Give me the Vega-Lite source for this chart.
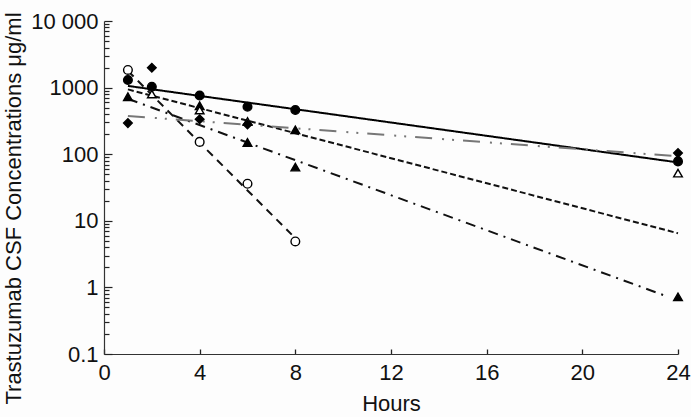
{
  "$schema": "https://vega.github.io/schema/vega-lite/v6.json",
  "width": 574,
  "height": 333,
  "autosize": {"type": "none"},
  "padding": {"left": 104, "top": 21, "right": 13, "bottom": 63},
  "background": "#fdfdfd",
  "config": {"view": {"stroke": null}},
  "datasets": {
    "fits": [
      {"fit": "A", "hour": 1, "conc": 1060},
      {"fit": "A", "hour": 23.8, "conc": 77},
      {"fit": "B", "hour": 1, "conc": 1780},
      {"fit": "B", "hour": 7.85, "conc": 6.2},
      {"fit": "C", "hour": 1, "conc": 680},
      {"fit": "C", "hour": 23.6, "conc": 0.72},
      {"fit": "D", "hour": 1, "conc": 940},
      {"fit": "D", "hour": 24, "conc": 6.5},
      {"fit": "E", "hour": 1, "conc": 375},
      {"fit": "E", "hour": 23.8, "conc": 94}
    ],
    "points": [
      {"marker": "filled circle", "hour": 1, "conc": 1300},
      {"marker": "filled circle", "hour": 2, "conc": 1030},
      {"marker": "filled circle", "hour": 4, "conc": 760},
      {"marker": "filled circle", "hour": 6, "conc": 515},
      {"marker": "filled circle", "hour": 8, "conc": 460},
      {"marker": "filled circle", "hour": 24, "conc": 78},
      {"marker": "open circle", "hour": 1, "conc": 1840},
      {"marker": "open circle", "hour": 4, "conc": 153},
      {"marker": "open circle", "hour": 6, "conc": 36},
      {"marker": "open circle", "hour": 8, "conc": 4.9},
      {"marker": "filled triangle", "hour": 1, "conc": 730},
      {"marker": "filled triangle", "hour": 4, "conc": 535},
      {"marker": "filled triangle", "hour": 6, "conc": 150},
      {"marker": "filled triangle", "hour": 8, "conc": 232},
      {"marker": "filled triangle", "hour": 8, "conc": 64},
      {"marker": "filled triangle", "hour": 24, "conc": 0.72},
      {"marker": "open triangle", "hour": 2, "conc": 800},
      {"marker": "open triangle", "hour": 4, "conc": 460},
      {"marker": "open triangle", "hour": 6, "conc": 310},
      {"marker": "open triangle", "hour": 24, "conc": 52},
      {"marker": "filled diamond", "hour": 1, "conc": 293},
      {"marker": "filled diamond", "hour": 2, "conc": 1990},
      {"marker": "filled diamond", "hour": 4, "conc": 335},
      {"marker": "filled diamond", "hour": 6, "conc": 280},
      {"marker": "filled diamond", "hour": 24, "conc": 104}
    ]
  },
  "encoding": {
    "x": {
      "field": "hour",
      "type": "quantitative",
      "scale": {"domain": [0, 24], "nice": false, "zero": false},
      "axis": {
        "values": [0, 4, 8, 12, 16, 20, 24],
        "grid": false,
        "tickSize": -5,
        "labelPadding": 13,
        "labelFlush": false,
        "labelFont": "Liberation Sans",
        "labelFontSize": 22,
        "labelColor": "#111",
        "domainColor": "#333",
        "domainWidth": 1.2,
        "tickColor": "#222",
        "tickWidth": 1.3,
        "title": "Hours",
        "titleFont": "Liberation Sans",
        "titleFontSize": 22,
        "titleFontWeight": "normal",
        "titleColor": "#111",
        "titlePadding": 10
      }
    },
    "y": {
      "field": "conc",
      "type": "quantitative",
      "scale": {"type": "log", "domain": [0.1, 10000], "nice": false},
      "axis": {
        "values": [0.1, 0.2, 0.3, 0.4, 0.5, 0.6, 0.7, 0.8, 0.9, 1, 2, 3, 4, 5, 6, 7, 8, 9, 10, 20, 30, 40, 50, 60, 70, 80, 90, 100, 200, 300, 400, 500, 600, 700, 800, 900, 1000, 2000, 3000, 4000, 5000, 6000, 7000, 8000, 9000, 10000],
        "labelExpr": "abs(log(datum.value)/LN10 - round(log(datum.value)/LN10)) < 1e-6 ? (datum.value >= 10000 ? '10 000' : (datum.value < 1 ? '0.1' : format(datum.value, 'd'))) : ''",
        "labelOverlap": false,
        "labelFlush": false,
        "grid": false,
        "tickSize": {"condition": {"test": "abs(log(datum.value)/LN10 - round(log(datum.value)/LN10)) < 1e-6", "value": -8}, "value": -5},
        "labelPadding": 14,
        "labelFont": "Liberation Sans",
        "labelFontSize": 22,
        "labelColor": "#111",
        "domainColor": "#333",
        "domainWidth": 1.2,
        "tickColor": "#222",
        "tickWidth": 1.2,
        "title": "Trastuzumab CSF Concentrations μg/ml",
        "titleFont": "Liberation Sans",
        "titleFontSize": 22,
        "titleFontWeight": "normal",
        "titleColor": "#111",
        "titleAngle": -90,
        "titleAlign": "center",
        "titleBaseline": "alphabetic",
        "titleX": -84,
        "titleY": 187
      }
    }
  },
  "layer": [
    {
      "data": {"name": "fits"},
      "mark": {"type": "line", "strokeWidth": 2},
      "encoding": {
        "detail": {"field": "fit", "type": "nominal"},
        "color": {"field": "fit", "type": "nominal", "legend": null, "scale": {"domain": ["A", "B", "C", "D", "E"], "range": ["#000000", "#111111", "#111111", "#111111", "#777777"]}},
        "strokeDash": {"field": "fit", "type": "nominal", "legend": null, "scale": {"domain": ["A", "B", "C", "D", "E"], "range": [[1, 0], [8, 6], [10, 6, 2, 6], [6, 3], [17, 10, 2, 8, 2, 9]]}}
      }
    },
    {
      "data": {"name": "points"},
      "mark": {"type": "point", "filled": true, "stroke": "#000", "strokeWidth": 1.4, "size": 75, "opacity": 1},
      "encoding": {
        "shape": {"field": "marker", "type": "nominal", "legend": null, "scale": {"domain": ["filled circle", "open circle", "filled triangle", "open triangle", "filled diamond"], "range": ["circle", "circle", "triangle-up", "triangle-up", "diamond"]}},
        "fill": {"field": "marker", "type": "nominal", "legend": null, "scale": {"domain": ["filled circle", "open circle", "filled triangle", "open triangle", "filled diamond"], "range": ["#000000", "#ffffff", "#000000", "#ffffff", "#000000"]}}
      }
    }
  ]
}
